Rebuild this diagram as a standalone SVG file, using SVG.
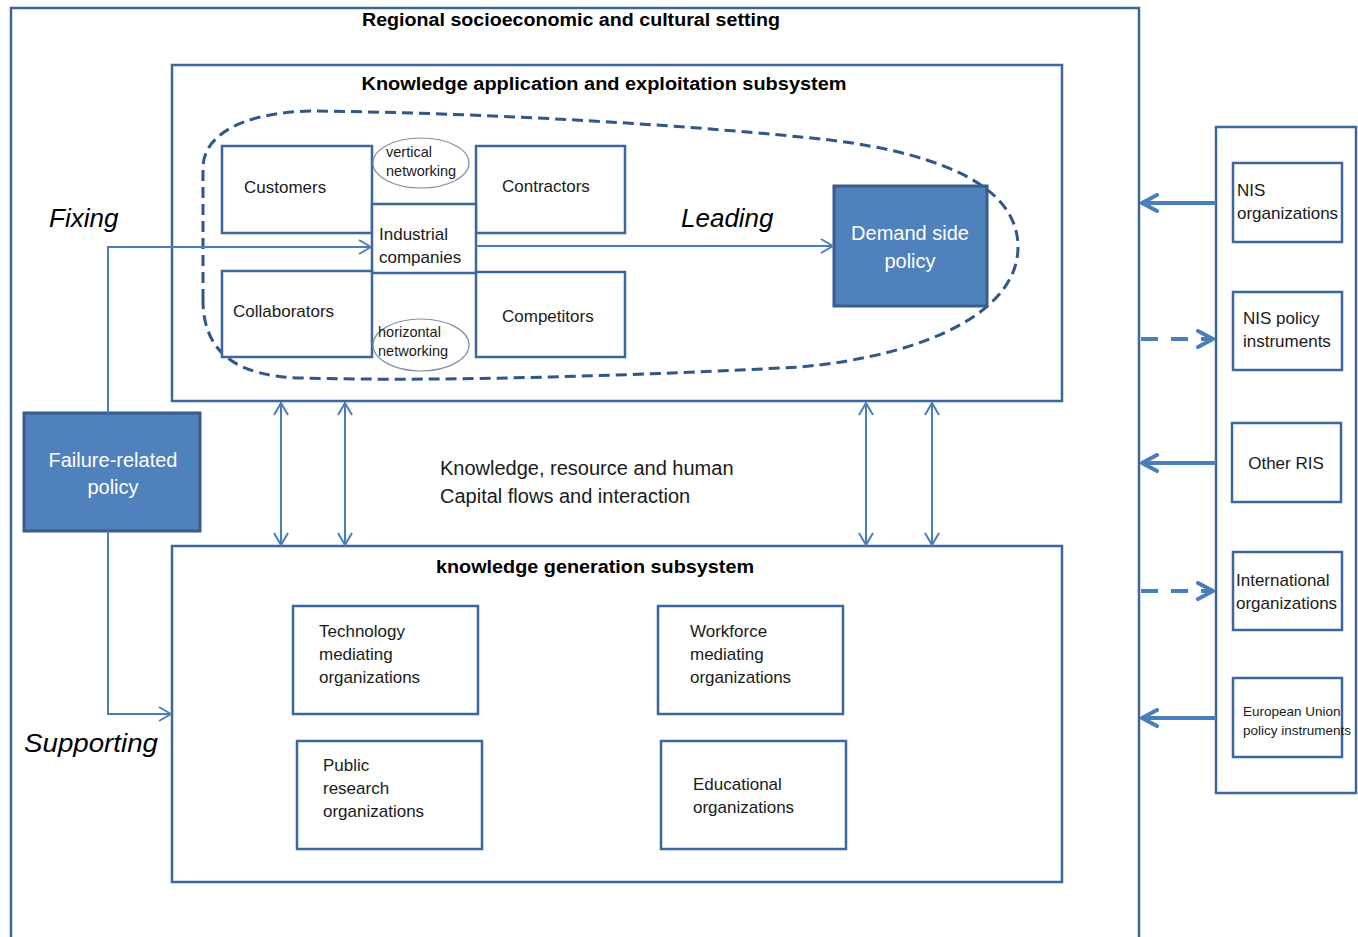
<svg xmlns="http://www.w3.org/2000/svg" width="1358" height="937" viewBox="0 0 1358 937">
<defs>
<style>
.frame{fill:none;stroke:#3d679c;stroke-width:2.5}
.box{fill:#ffffff;stroke:#3d679c;stroke-width:2.5}
.fbox{fill:#4f81bd;stroke:#385d8a;stroke-width:3}
.ell{fill:#ffffff;stroke:#8391a8;stroke-width:1.2}
.thin{fill:none;stroke:#4a7ebb;stroke-width:2}
.thick{fill:none;stroke:#4a7ebb;stroke-width:4}
.dash{fill:none;stroke:#4a7ebb;stroke-width:4;stroke-dasharray:17 13}
.cloud{fill:none;stroke:#2f5787;stroke-width:3;stroke-dasharray:11 6}
text{font-family:"Liberation Sans",Arial,sans-serif;fill:#1a1a1a}
.t{font-size:17px}
.ts{font-size:14.5px}
.title{font-size:18px;font-weight:bold;fill:#000}
.it{font-size:26px;font-style:italic;fill:#000}
.wh{font-size:20px;fill:#ffffff}
.mid{font-size:20px}
.eu{font-size:13.5px}
</style>
<marker id="aT" viewBox="0 0 14 16" refX="13" refY="8" markerWidth="14" markerHeight="16" markerUnits="userSpaceOnUse" orient="auto-start-reverse">
<path d="M1,1 L13,8 L1,15" fill="none" stroke="#4a7ebb" stroke-width="2"/>
</marker>
<marker id="aK" viewBox="0 0 20 20" refX="18" refY="10" markerWidth="20" markerHeight="20" markerUnits="userSpaceOnUse" orient="auto">
<path d="M3,2 L18,10 L3,18" fill="none" stroke="#4a7ebb" stroke-width="4" stroke-linecap="round" stroke-linejoin="round"/>
</marker>
</defs>
<rect width="1358" height="937" fill="#ffffff"/>

<g id="regional-setting">
<path class="frame" d="M11,940 V8 H1139 V940"/>
<text class="title" x="571" y="26" text-anchor="middle" textLength="418" lengthAdjust="spacingAndGlyphs">Regional socioeconomic and cultural setting</text>
</g>

<g id="application-subsystem">
<rect class="box" x="172" y="65" width="890" height="336"/>
<text class="title" x="604" y="90" text-anchor="middle" textLength="485" lengthAdjust="spacingAndGlyphs">Knowledge application and exploitation subsystem</text>
</g>

<g id="cluster">
<path class="cloud" d="M203,300 L203,168 C203,136 240,113 310,111 C500,113 700,126 830,140 C950,155 1018,190 1018,247 C1018,310 930,355 800,367 C650,375 450,382 300,378 C240,376 203,355 203,300 Z"/>
</g>

<g id="customers">
<rect class="box" x="222" y="146" width="150" height="87"/>
<text class="t" x="244" y="193">Customers</text>
</g>
<g id="contractors">
<rect class="box" x="476" y="146" width="149" height="87"/>
<text class="t" x="502" y="192">Contractors</text>
</g>
<g id="industrial-companies">
<rect class="box" x="372" y="204" width="104" height="69"/>
<text class="t" x="379" y="240">Industrial</text>
<text class="t" x="379" y="263">companies</text>
</g>
<g id="collaborators">
<rect class="box" x="222" y="271" width="150" height="86"/>
<text class="t" x="233" y="317">Collaborators</text>
</g>
<g id="competitors">
<rect class="box" x="476" y="272" width="149" height="85"/>
<text class="t" x="502" y="322">Competitors</text>
</g>
<g id="vertical-networking">
<ellipse class="ell" cx="421" cy="163" rx="48" ry="25"/>
<text class="ts" x="386" y="157">vertical</text>
<text class="ts" x="386" y="176">networking</text>
</g>
<g id="horizontal-networking">
<ellipse class="ell" cx="421" cy="345" rx="48" ry="26"/>
<text class="ts" x="378" y="337">horizontal</text>
<text class="ts" x="378" y="356">networking</text>
</g>

<g id="demand-side-policy">
<rect class="fbox" x="834" y="186" width="153" height="120"/>
<text class="wh" x="910" y="240" text-anchor="middle">Demand side</text>
<text class="wh" x="910" y="268" text-anchor="middle">policy</text>
</g>

<g id="failure-related-policy">
<rect class="fbox" x="24" y="413" width="176" height="118"/>
<text class="wh" x="113" y="467" text-anchor="middle">Failure-related</text>
<text class="wh" x="113" y="494" text-anchor="middle">policy</text>
</g>

<g id="generation-subsystem">
<rect class="box" x="172" y="546" width="890" height="336"/>
<text class="title" x="595" y="573" text-anchor="middle" textLength="318" lengthAdjust="spacingAndGlyphs">knowledge generation subsystem</text>
</g>
<g id="technology-mediating">
<rect class="box" x="293" y="606" width="185" height="108"/>
<text class="t" x="319" y="637">Technology</text>
<text class="t" x="319" y="660">mediating</text>
<text class="t" x="319" y="683">organizations</text>
</g>
<g id="public-research">
<rect class="box" x="297" y="741" width="185" height="108"/>
<text class="t" x="323" y="771">Public</text>
<text class="t" x="323" y="794">research</text>
<text class="t" x="323" y="817">organizations</text>
</g>
<g id="workforce-mediating">
<rect class="box" x="658" y="606" width="185" height="108"/>
<text class="t" x="690" y="637">Workforce</text>
<text class="t" x="690" y="660">mediating</text>
<text class="t" x="690" y="683">organizations</text>
</g>
<g id="educational">
<rect class="box" x="661" y="741" width="185" height="108"/>
<text class="t" x="693" y="790">Educational</text>
<text class="t" x="693" y="813">organizations</text>
</g>

<g id="external-panel">
<rect class="box" x="1216" y="127" width="140" height="666"/>
</g>
<g id="nis-organizations">
<rect class="box" x="1233" y="163" width="109" height="79"/>
<text class="t" x="1237" y="196">NIS</text>
<text class="t" x="1237" y="219">organizations</text>
</g>
<g id="nis-policy-instruments">
<rect class="box" x="1233" y="292" width="109" height="78"/>
<text class="t" x="1243" y="324">NIS policy</text>
<text class="t" x="1243" y="347">instruments</text>
</g>
<g id="other-ris">
<rect class="box" x="1232" y="423" width="109" height="79"/>
<text class="t" x="1286" y="469" text-anchor="middle">Other RIS</text>
</g>
<g id="international-organizations">
<rect class="box" x="1233" y="552" width="109" height="78"/>
<text class="t" x="1236" y="586">International</text>
<text class="t" x="1236" y="609">organizations</text>
</g>
<g id="eu-policy-instruments">
<rect class="box" x="1233" y="678" width="109" height="79"/>
<text class="eu" x="1243" y="716">European Union</text>
<text class="eu" x="1243" y="735">policy instruments</text>
</g>

<g id="labels">
<text class="it" x="49" y="227">Fixing</text>
<text class="it" x="681" y="227">Leading</text>
<text class="it" x="24" y="752" textLength="134" lengthAdjust="spacingAndGlyphs">Supporting</text>
<text class="mid" x="440" y="475">Knowledge, resource and human</text>
<text class="mid" x="440" y="503">Capital flows and interaction</text>
</g>

<g id="connectors">
<path class="thin" d="M476,246 H833" marker-end="url(#aT)"/>
<path class="thin" d="M108,413 V247 H371" marker-end="url(#aT)"/>
<path class="thin" d="M108,531 V714 H171" marker-end="url(#aT)"/>
<path class="thin" d="M281,403 V545" marker-start="url(#aT)" marker-end="url(#aT)"/>
<path class="thin" d="M345,403 V545" marker-start="url(#aT)" marker-end="url(#aT)"/>
<path class="thin" d="M866,403 V545" marker-start="url(#aT)" marker-end="url(#aT)"/>
<path class="thin" d="M932,403 V545" marker-start="url(#aT)" marker-end="url(#aT)"/>
<path class="thick" d="M1216,203 H1142" marker-end="url(#aK)"/>
<path class="dash" d="M1141,339 H1213" marker-end="url(#aK)"/>
<path class="thick" d="M1216,463 H1142" marker-end="url(#aK)"/>
<path class="dash" d="M1141,591 H1213" marker-end="url(#aK)"/>
<path class="thick" d="M1216,718 H1142" marker-end="url(#aK)"/>
</g>
</svg>
